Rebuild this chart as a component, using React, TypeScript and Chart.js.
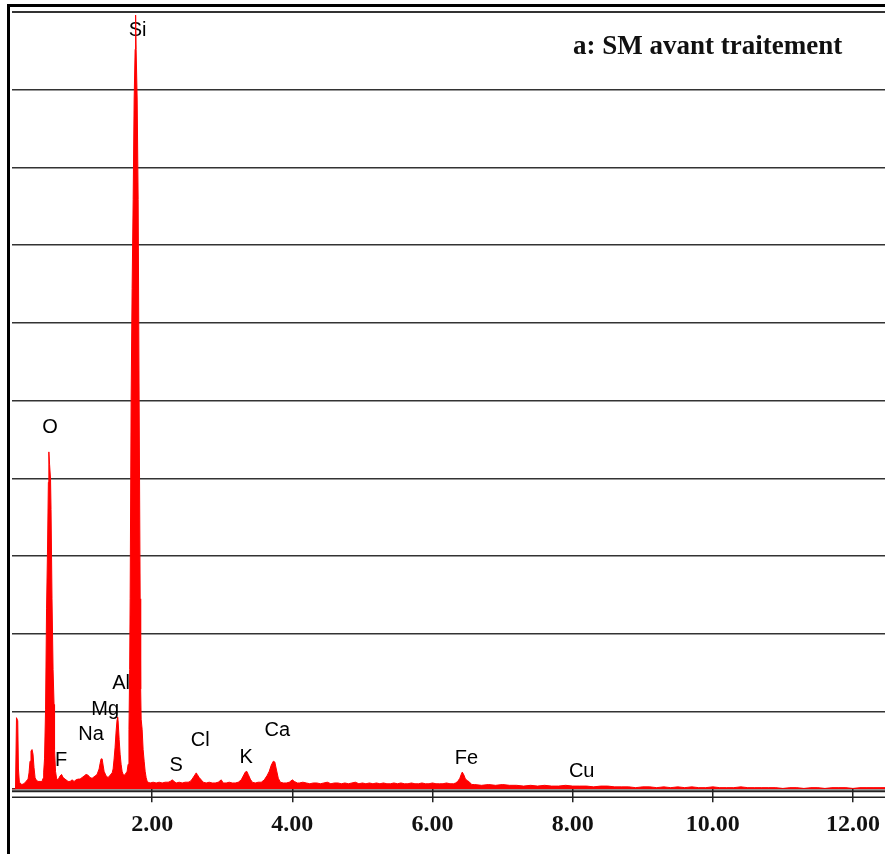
import React, { useEffect, useRef } from "react";
import { Chart, registerables } from "chart.js";

Chart.register(...registerables);

// Energy axis (keV) of the spectrum samples
const energyKeV = [
  0.0, 0.05, 0.064, 0.082, 0.092, 0.105, 0.14, 0.17, 0.2, 0.229, 0.243, 0.257, 0.271, 0.286, 0.3, 0.314, 0.329,
  0.343, 0.371, 0.4, 0.429, 0.443, 0.452, 0.464, 0.479, 0.493, 0.507, 0.519, 0.526, 0.536, 0.55, 0.557, 0.571,
  0.586, 0.6, 0.607, 0.621, 0.636, 0.657, 0.686, 0.707, 0.729, 0.743, 0.771, 0.8, 0.829, 0.857, 0.886, 0.914,
  0.943, 0.971, 1.0, 1.029, 1.057, 1.086, 1.114, 1.143, 1.157, 1.186, 1.214, 1.243, 1.257, 1.271, 1.286, 1.3,
  1.314, 1.343, 1.371, 1.4, 1.429, 1.443, 1.457, 1.471, 1.486, 1.5, 1.507, 1.514, 1.529, 1.543, 1.557, 1.571,
  1.586, 1.6, 1.614, 1.629, 1.643, 1.657, 1.669, 1.679, 1.686, 1.7, 1.714, 1.729, 1.743, 1.757, 1.764, 1.771,
  1.786, 1.8, 1.814, 1.829, 1.836, 1.843, 1.857, 1.871, 1.886, 1.9, 1.914, 1.929, 1.943, 1.971, 2.014, 2.057,
  2.1, 2.143, 2.186, 2.229, 2.257, 2.286, 2.314, 2.343, 2.386, 2.429, 2.471, 2.514, 2.543, 2.571, 2.6, 2.629,
  2.643, 2.671, 2.7, 2.729, 2.771, 2.814, 2.857, 2.9, 2.943, 2.986, 3.014, 3.057, 3.1, 3.143, 3.186, 3.229,
  3.271, 3.3, 3.329, 3.35, 3.371, 3.4, 3.429, 3.471, 3.514, 3.557, 3.6, 3.643, 3.671, 3.7, 3.729, 3.75, 3.771,
  3.8, 3.829, 3.871, 3.914, 3.957, 4.0, 4.029, 4.071, 4.1, 4.15, 4.2, 4.25, 4.3, 4.35, 4.4, 4.45, 4.5, 4.55,
  4.6, 4.65, 4.7, 4.75, 4.8, 4.85, 4.9, 4.95, 5.0, 5.05, 5.1, 5.15, 5.2, 5.25, 5.3, 5.35, 5.4, 5.45, 5.5, 5.55,
  5.6, 5.65, 5.7, 5.75, 5.8, 5.85, 5.9, 5.95, 6.0, 6.05, 6.1, 6.15, 6.2, 6.25, 6.3, 6.33, 6.36, 6.39, 6.41,
  6.425, 6.45, 6.47, 6.5, 6.53, 6.56, 6.6, 6.7, 6.8, 6.9, 7.0, 7.1, 7.2, 7.3, 7.4, 7.5, 7.6, 7.7, 7.8, 7.9, 8.0,
  8.1, 8.2, 8.3, 8.4, 8.5, 8.6, 8.7, 8.8, 8.9, 9.0, 9.1, 9.2, 9.3, 9.4, 9.5, 9.6, 9.7, 9.8, 9.9, 10.0, 10.1,
  10.2, 10.3, 10.4, 10.5, 10.6, 10.7, 10.8, 10.9, 11.0, 11.1, 11.2, 11.3, 11.4, 11.5, 11.6, 11.7, 11.8, 11.9,
  12.0, 12.1, 12.2, 12.3, 12.4, 12.47,
];

// Counts (relative units, full scale = 1000)
const counts = [
  0, 0, 92, 88, 26, 9, 6, 7, 10, 13, 21, 36, 49, 51, 45, 28, 15,
  12, 10, 10, 10, 14, 22, 39, 103, 232, 309, 395, 434, 418, 399, 360, 245,
  154, 109, 51, 23, 14, 12, 17, 19, 15, 14, 12, 10, 10, 12, 10, 12,
  13, 13, 15, 17, 19, 18, 15, 14, 15, 17, 19, 26, 33, 39, 39, 31,
  23, 17, 15, 18, 21, 26, 39, 54, 75, 90, 93, 88, 64, 45, 32, 23,
  19, 18, 19, 21, 23, 32, 77, 154, 245, 502, 644, 759, 888, 952, 996, 952,
  888, 759, 502, 245, 129, 90, 77, 51, 36, 23, 15, 10, 9, 8, 9, 8,
  9, 8, 9, 9, 10, 12, 10, 8, 9, 8, 9, 9, 10, 13, 17, 21,
  19, 15, 12, 9, 8, 9, 8, 8, 9, 12, 8, 8, 9, 8, 8, 9,
  12, 17, 22, 23, 19, 13, 9, 8, 9, 9, 12, 18, 23, 31, 36, 35, 26,
  14, 9, 8, 8, 9, 12, 10, 8, 8, 9, 8, 7, 8, 8, 7, 8, 9, 7,
  8, 8, 7, 8, 7, 8, 9, 7, 8, 7, 8, 7, 8, 7, 8, 7, 7, 8, 7, 8,
  7, 7, 8, 7, 7, 8, 7, 7, 8, 7, 7, 7, 8, 7, 7, 8, 10, 14, 19,
  22, 18, 13, 11, 9, 6, 6, 5, 6, 5, 6, 5, 5, 4, 5, 4, 5, 4, 4, 5, 4,
  4, 4, 3, 4, 4, 3, 3, 3, 2, 3, 3, 2, 3, 2, 3, 2, 3, 2, 2, 3, 2,
  2, 2, 3, 2, 2, 2, 2, 2, 1, 2, 2, 1, 2, 2, 1, 2, 2, 2,
  1, 2, 2, 2, 2, 2,
];

// Element annotations
const peakLabels = ["Si", "O", "Al", "Mg", "Na", "F", "S", "Cl", "K", "Ca", "Fe", "Cu"];
const peakLabelEnergy = [1.793, 0.543, 1.557, 1.329, 1.129, 0.7, 2.343, 2.686, 3.343, 3.786, 6.486, 8.129];
const peakLabelCounts = [976, 465, 136, 102, 70, 37, 30, 63, 41, 75, 40, 23];

const xTickValues = [2, 4, 6, 8, 10, 12];
const xAxisMax = 12.6;
const chartTitle = "a: SM avant traitement";

const decorPlugin = {
  id: "decor",
  beforeDraw(chart: any) {
    const ctx = chart.ctx;
    ctx.save();
    ctx.fillStyle = "#ffffff";
    ctx.fillRect(0, 0, chart.width, chart.height);
    ctx.fillStyle = "#000000";
    ctx.fillRect(7, 4, chart.width - 7, 3);
    ctx.fillRect(7, 4, 3, chart.height - 4);
    ctx.restore();
  },
  beforeDatasetsDraw(chart: any) {
    const ctx = chart.ctx;
    const xs = chart.scales.x;
    const ys = chart.scales.y;
    ctx.save();
    ctx.font = "20px 'Liberation Sans', Arial, sans-serif";
    ctx.fillStyle = "#000000";
    ctx.textAlign = "center";
    ctx.textBaseline = "middle";
    peakLabels.forEach((lbl, i) => {
      ctx.fillText(lbl, xs.getPixelForValue(peakLabelEnergy[i]), ys.getPixelForValue(peakLabelCounts[i]));
    });
    ctx.restore();
  },
  afterDraw(chart: any) {
    const ctx = chart.ctx;
    const area = chart.chartArea;
    ctx.save();
    ctx.strokeStyle = "#222222";
    ctx.lineWidth = 2;
    ctx.beginPath();
    ctx.moveTo(area.left, area.bottom + 2);
    ctx.lineTo(chart.width, area.bottom + 2);
    ctx.stroke();
    ctx.lineWidth = 1.5;
    ctx.beginPath();
    ctx.moveTo(area.left, area.bottom + 8);
    ctx.lineTo(chart.width, area.bottom + 8);
    ctx.stroke();
    ctx.font = "bold 27px 'Liberation Serif', 'Times New Roman', serif";
    ctx.fillStyle = "#111111";
    ctx.textAlign = "left";
    ctx.textBaseline = "alphabetic";
    ctx.fillText(chartTitle, 573, 54);
    ctx.restore();
  },
};

export default function App() {
  const ref = useRef<HTMLCanvasElement>(null);
  useEffect(() => {
    document.body.style.margin = "0";
    document.body.style.overflow = "hidden";
    const points = energyKeV.map((e, i) => ({ x: e, y: counts[i] }));
    const chart = new Chart(ref.current as HTMLCanvasElement, {
      type: "line",
      data: {
        datasets: [
          {
            data: points,
            borderColor: "#ff0000",
            backgroundColor: "#ff0000",
            borderWidth: 1,
            fill: "origin",
            pointRadius: 0,
            tension: 0,
          },
        ],
      },
      options: {
        responsive: false,
        maintainAspectRatio: false,
        animation: false,
        devicePixelRatio: 1,
        layout: { padding: { left: 12, top: 12, right: 5, bottom: 7 } },
        plugins: { legend: { display: false }, tooltip: { enabled: false } },
        scales: {
          x: {
            type: "linear",
            min: 0,
            max: xAxisMax,
            afterBuildTicks: (axis: any) => {
              axis.ticks = xTickValues.map((v) => ({ value: v }));
            },
            ticks: {
              autoSkip: false,
              maxRotation: 0,
              padding: 8,
              color: "#111111",
              font: { family: "'Liberation Serif', 'Times New Roman', serif", size: 24, weight: "bold" },
              callback: (v: any) => Number(v).toFixed(2),
            },
            grid: { drawOnChartArea: false, drawTicks: true, tickLength: 13, color: "#222222", lineWidth: 1.5 },
            border: { display: false },
          },
          y: {
            min: 0,
            max: 1000,
            ticks: { display: false, stepSize: 100 },
            grid: {
              drawTicks: false,
              color: "#333333",
              lineWidth: (c: any) => (c.tick && c.tick.value === 1000 ? 2 : 1.5),
            },
            border: { display: false },
          },
        },
      },
      plugins: [decorPlugin],
    });
    return () => chart.destroy();
  }, []);
  return (
    <div style={{ position: "relative", width: 885, height: 854, overflow: "hidden" }}>
      <canvas ref={ref} width={900} height={854} style={{ display: "block", width: 900, height: 854 }} />
    </div>
  );
}
